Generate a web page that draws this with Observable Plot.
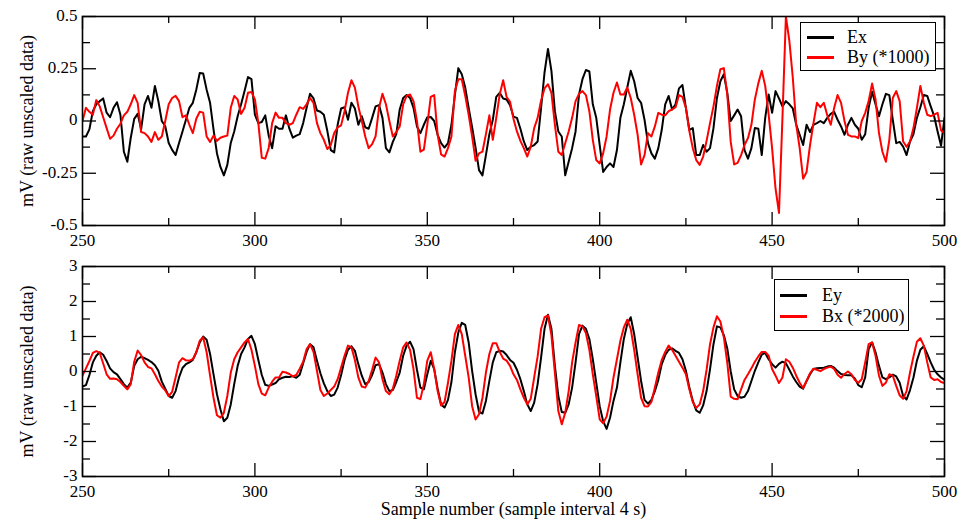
<!DOCTYPE html>
<html>
<head>
<meta charset="utf-8">
<script src="https://cdn.jsdelivr.net/npm/d3@7"></script>
<script src="https://cdn.jsdelivr.net/npm/@observablehq/plot@0.6"></script>
<style>
  body { margin: 0; background: #fff; }
  #wrap { position: relative; width: 963px; height: 528px; background: #fff;
          font-family: "Liberation Serif", "Times New Roman", serif; color: #000; }
  #wrap svg { position: absolute; left: 0; }
  .legend { position: absolute; border: 1px solid #000; background: #fff; box-sizing: border-box; }
  .legend .sw { position: absolute; height: 3px; width: 27px; }
  .legend .lb { position: absolute; font-size: 18px; line-height: 18px; white-space: nowrap; }
</style>
</head>
<body>
<div id="wrap"></div>
<script>
// ---------------- data ----------------
const sampleStart = 250;
const sampleEnd = 500;

// Top panel: Ex (mV) and By (*1000)
const ex = [-0.074,-0.074,-0.04,0.047,0.08,0.095,0.108,0.04,0.018,0.063,
0.09,0.03,-0.147,-0.195,-0.08,0.01,0.034,-0.04,0.08,0.12,
0.063,0.168,0.095,0,-0.025,-0.105,-0.138,-0.163,-0.105,-0.05,
0.006,0.063,0.087,0.15,0.23,0.227,0.15,0.087,-0.04,-0.155,
-0.22,-0.26,-0.21,-0.105,-0.05,0.023,0.08,0.143,0.21,0.2,
0.03,-0.01,-0.005,0.027,-0.07,-0.13,-0.025,-0.037,-0.037,0.027,
-0.037,-0.08,-0.07,-0.063,-0.01,0.063,0.13,0.108,0.05,0.044,
0.03,-0.047,-0.139,-0.15,-0.018,0.06,0.066,0.006,0.087,0.06,
-0.018,0.023,-0.03,-0.037,0.015,0.07,0.076,0.015,-0.13,-0.15,
-0.1,-0.063,0.055,0.11,0.124,0.11,0.063,-0.026,-0.058,-0.018,
0.018,0.019,0,-0.066,-0.106,-0.127,-0.106,-0.018,0.124,0.253,
0.224,0.16,0.063,-0.03,-0.127,-0.235,-0.26,-0.163,-0.063,0.006,
0.115,0.135,0.108,0.103,0.076,0.02,0.015,-0.037,-0.098,-0.139,
-0.123,-0.115,-0.098,0.063,0.232,0.345,0.24,0.047,-0.05,-0.074,
-0.26,-0.195,-0.13,-0.05,0.127,0.2,0.244,0.237,0.08,0.015,
-0.115,-0.244,-0.22,-0.203,-0.22,-0.139,0.015,0.08,0.16,0.24,
0.19,0.11,0.087,0.006,-0.106,-0.155,-0.18,-0.13,-0.042,0.08,
0.12,0.055,0.08,0.156,0.172,0.063,-0.042,-0.034,-0.163,-0.163,
-0.115,-0.147,-0.13,-0.034,0.11,0.19,0.224,0.135,0,0.027,
0.055,0.023,-0.139,-0.18,-0.13,-0.034,-0.037,-0.163,0.015,0.127,
0.039,0.143,0.108,0.07,0.095,0.08,0.06,-0.018,-0.066,-0.115,
-0.018,-0.053,-0.018,-0.01,0,-0.01,0.015,0.034,0.044,0.006,
-0.026,-0.066,-0.018,0.015,-0.018,-0.037,-0.09,-0.063,0.063,0.14,
0.08,0.023,0.08,0.13,0.124,0.006,-0.106,-0.1,-0.123,-0.163,
-0.098,-0.063,0.015,0.066,0.124,0.12,0.07,0.023,-0.05,-0.118,
0.015];

const by = [0,0.063,0.044,0.03,0.1,0.07,0.018,-0.034,-0.085,-0.07,
-0.037,-0.013,0.027,0.044,0.08,0.124,0.087,-0.053,-0.058,-0.074,
-0.1,-0.053,-0.09,-0.074,0,0.08,0.11,0.12,0.095,0.018,
0.027,-0.018,-0.058,0.011,0.044,0.04,-0.074,-0.1,-0.07,-0.095,
-0.08,-0.074,-0.07,0.063,0.12,0.103,0.034,0.063,0.135,0.139,
0.103,-0.01,-0.176,-0.18,-0.13,-0.01,0.04,0.015,0.015,-0.01,
-0.018,-0.01,0.03,0.066,0.058,0.08,0.11,0.087,-0.01,-0.058,
-0.09,-0.134,-0.115,-0.058,-0.03,-0.021,0.047,0.135,0.195,0.16,
0.07,0,-0.074,-0.13,-0.111,-0.074,0.063,0.13,0.08,0,
-0.074,-0.053,-0.026,0.08,0.12,0.127,0.095,0,-0.147,-0.137,
-0.018,0.115,0.124,-0.066,-0.16,-0.17,-0.13,-0.074,0.143,0.2,
0.2,0.12,0.03,-0.074,-0.19,-0.155,-0.147,-0.063,0.027,-0.09,
0.015,0.127,0.195,0.115,0.092,0.01,-0.05,-0.095,-0.13,-0.17,
-0.123,-0.034,0.015,0.098,0.156,0.176,0.135,-0.018,-0.147,-0.163,
-0.106,-0.05,0.015,0.095,0.13,0.143,0.124,0.047,-0.09,-0.187,
-0.203,-0.155,-0.074,0.055,0.135,0.184,0.127,0.127,0.16,0.11,
0.03,-0.066,-0.208,-0.163,-0.058,-0.074,-0.026,0.039,0.03,0.027,
0.047,0.055,0.066,0.124,0.115,0.063,-0.048,-0.13,-0.187,-0.21,
-0.17,-0.095,-0.01,0.07,0.168,0.248,0.253,0.127,-0.1,-0.208,
-0.2,-0.163,-0.115,-0.082,-0.018,0.103,0.18,0.24,0.168,0.03,
-0.13,-0.324,-0.44,0.015,0.5,0.385,0.208,-0.018,-0.13,-0.276,
-0.244,-0.115,-0.01,0.087,0.066,0.087,0.027,-0.018,0.063,0.124,
0.087,0,-0.066,-0.074,-0.074,-0.082,0,0.039,0.095,0.179,
0.103,-0.058,-0.147,-0.195,-0.09,0.11,0.143,0.095,-0.098,-0.123,
-0.098,-0.034,0.063,0.168,0.087,0.03,0.023,0.03,0.039,-0.045,
-0.058];

// Bottom panel: Ey (mV) and Bx (*2000)
const ey = [-0.43,-0.39,-0.1,0.26,0.45,0.55,0.48,0.3,0.09,-0.02,
-0.08,-0.22,-0.36,-0.46,-0.32,0.16,0.35,0.42,0.38,0.33,
0.27,0.18,0.02,-0.29,-0.49,-0.7,-0.75,-0.56,-0.17,0.1,
0.21,0.26,0.33,0.55,0.83,1.0,0.91,0.5,-0.08,-0.65,
-1.08,-1.42,-1.32,-0.94,-0.36,0.16,0.5,0.69,0.93,1.02,
0.78,0.33,-0.1,-0.38,-0.41,-0.37,-0.33,-0.22,-0.18,-0.15,
-0.16,-0.13,-0.18,-0.09,0.24,0.56,0.78,0.69,0.31,-0.05,
-0.34,-0.56,-0.7,-0.66,-0.46,-0.1,0.33,0.62,0.72,0.59,
0.21,-0.12,-0.36,-0.3,-0.1,0.18,0.21,-0.03,-0.36,-0.56,
-0.53,-0.3,-0.03,0.45,0.74,0.85,0.64,0.05,-0.46,-0.51,
-0.08,0.31,0.07,-0.49,-0.94,-1.03,-0.81,-0.3,0.55,1.12,
1.39,1.33,0.83,0.02,-0.65,-1.15,-1.2,-0.84,-0.27,0.26,
0.55,0.59,0.57,0.47,0.33,0.25,0.05,-0.22,-0.56,-0.94,
-1.13,-0.89,-0.36,0.4,1.22,1.62,1.22,0.16,-0.7,-1.16,
-1.18,-0.94,-0.46,0.26,1.07,1.31,1.22,0.93,0.35,-0.32,
-0.99,-1.42,-1.64,-1.32,-0.84,-0.46,0.26,0.93,1.36,1.55,
1.07,0.4,-0.27,-0.81,-0.92,-0.81,-0.56,-0.24,0.21,0.47,
0.62,0.66,0.59,0.53,0.35,0.02,-0.46,-0.84,-1.11,-1.18,
-0.97,-0.56,0.07,0.78,1.29,1.26,1.04,0.66,0,-0.51,
-0.7,-0.75,-0.72,-0.56,-0.27,0.02,0.26,0.48,0.53,0.35,
0.21,0.11,0.22,0.28,0.24,0.05,-0.14,-0.3,-0.43,-0.49,
-0.27,-0.08,0.07,0.09,0.1,0.11,0.14,0.16,0.11,0.01,
-0.07,-0.1,-0.11,-0.11,-0.2,-0.39,-0.45,-0.17,0.64,0.83,
0.55,0.16,-0.17,-0.22,-0.17,-0.09,-0.14,-0.32,-0.7,-0.8,
-0.53,-0.17,0.31,0.62,0.72,0.5,0.26,0.05,-0.08,-0.17,
-0.24];

const bx = [-0.12,0.09,0.3,0.53,0.58,0.53,0.23,-0.08,-0.21,-0.2,
-0.22,-0.3,-0.41,-0.51,-0.36,0.28,0.6,0.47,0.26,0.13,
0.09,-0.08,-0.27,-0.43,-0.54,-0.7,-0.58,-0.17,0.26,0.38,
0.32,0.31,0.35,0.55,0.88,0.98,0.55,-0.12,-0.75,-1.25,
-1.32,-1.18,-0.7,-0.03,0.35,0.55,0.69,0.83,0.93,0.62,
0.16,-0.36,-0.63,-0.68,-0.46,-0.29,-0.17,-0.17,-0.01,-0.03,
-0.07,-0.14,-0.1,0.08,0.28,0.64,0.78,0.56,0.02,-0.53,
-0.7,-0.63,-0.53,-0.43,-0.22,0.11,0.45,0.74,0.69,0.33,
-0.17,-0.43,-0.46,-0.27,0.05,0.4,0.26,-0.22,-0.56,-0.65,
-0.49,-0.12,0.31,0.69,0.83,0.62,0.07,-0.75,-0.79,-0.36,
0.31,0.55,0.07,-0.56,-0.97,-0.87,-0.32,0.31,1.07,1.33,
1.07,0.45,-0.17,-0.99,-1.37,-1.22,-0.75,-0.03,0.5,0.81,
0.81,0.56,0.37,0.31,0.16,-0.08,-0.24,-0.51,-0.75,-0.94,
-0.78,-0.17,0.43,1.22,1.55,1.6,1.04,-0.03,-1.13,-1.51,
-1.18,-0.56,0.26,0.83,1.33,1.29,1.1,0.62,-0.08,-0.7,
-1.37,-1.48,-1.29,-0.84,-0.17,0.35,0.88,1.26,1.48,1.22,
0.62,-0.08,-0.75,-0.99,-1.0,-0.87,-0.46,-0.03,0.33,0.56,
0.74,0.62,0.45,0.28,0.11,-0.08,-0.51,-0.87,-1.04,-0.94,
-0.56,0.05,0.78,1.26,1.58,1.43,0.98,0.25,-0.72,-0.78,
-0.79,-0.51,-0.24,-0.08,0.09,0.28,0.43,0.56,0.56,0.45,
0.07,-0.12,-0.33,-0.17,0.35,0.28,0.11,-0.12,-0.32,-0.47,
-0.27,-0.05,0.08,0.05,0.01,0.07,0.11,0.14,0.07,-0.09,
-0.18,-0.07,0,-0.08,-0.24,-0.32,-0.22,0.26,0.78,0.83,
0.45,-0.12,-0.41,-0.32,-0.08,-0.12,-0.41,-0.68,-0.78,-0.56,
-0.03,0.43,0.85,0.95,0.74,0.26,-0.17,-0.24,-0.22,-0.3,
-0.33];

// tick values
const xMajorTicks = [250, 300, 350, 400, 450, 500];
const xMinorTicks = [275, 325, 375, 425, 475];
const topYMajor = [-0.5, -0.25, 0, 0.25, 0.5];
const topYMinor = [-0.375, -0.125, 0.125, 0.375];
const botYMajor = [-3, -2, -1, 0, 1, 2, 3];
const botYMinor = [-2.5, -1.5, -0.5, 0.5, 1.5, 2.5];

const yTitle = "mV (raw unscaled data)";
const xTitle = "Sample number (sample interval 4 s)";
const topLegend = [{label: "Ex", color: "#000000"}, {label: "By (*1000)", color: "#ff0000"}];
const botLegend = [{label: "Ey", color: "#000000"}, {label: "Bx (*2000)", color: "#ff0000"}];

// ---------------- drawing ----------------
const W = 963, ML = 82, MR = 19, MT = 16;
const plotW = W - ML - MR;

function panel({top, height, marginBottom, yDomain, yMajor, yMinor, black, red, withXTitle}) {
  const ph = height - MT - marginBottom;
  const toRows = (vals) => vals.map((v, i) => ({s: sampleStart + i, v}));
  const marks = [
    Plot.line(toRows(black), {x: "s", y: "v", stroke: "#000", strokeWidth: 2, clip: true}),
    Plot.line(toRows(red), {x: "s", y: "v", stroke: "#ff0000", strokeWidth: 2, clip: true}),
    // inward ticks: bottom and top edges
    Plot.tickX(xMajorTicks, {x: d => d, insetTop: ph - 13, stroke: "#000", strokeWidth: 1.3}),
    Plot.tickX(xMajorTicks, {x: d => d, insetBottom: ph - 13, stroke: "#000", strokeWidth: 1.3}),
    Plot.tickX(xMinorTicks, {x: d => d, insetTop: ph - 7, stroke: "#000", strokeWidth: 1.3}),
    Plot.tickX(xMinorTicks, {x: d => d, insetBottom: ph - 7, stroke: "#000", strokeWidth: 1.3}),
    // inward ticks: left and right edges
    Plot.tickY(yMajor, {y: d => d, insetRight: plotW - 14, stroke: "#000", strokeWidth: 1.3}),
    Plot.tickY(yMajor, {y: d => d, insetLeft: plotW - 14, stroke: "#000", strokeWidth: 1.3}),
    Plot.tickY(yMinor, {y: d => d, insetRight: plotW - 8, stroke: "#000", strokeWidth: 1.3}),
    Plot.tickY(yMinor, {y: d => d, insetLeft: plotW - 8, stroke: "#000", strokeWidth: 1.3}),
    Plot.frame({stroke: "#000", strokeWidth: 1.6}),
    Plot.axisX(xMajorTicks, {tickSize: 0, tickPadding: 8, tickFormat: d => String(d), fontSize: 17, label: null}),
    Plot.axisY(yMajor, {tickSize: 0, tickPadding: 5, dy: -1, tickFormat: d => String(d), fontSize: 17, label: null}),
    Plot.text([yTitle], {text: d => d, frameAnchor: "left", dx: -55, rotate: -90,
      textAnchor: "middle", lineAnchor: "middle", fontSize: 18})
  ];
  if (withXTitle) {
    marks.push(Plot.text([xTitle], {text: d => d, frameAnchor: "bottom", dy: 33,
      textAnchor: "middle", lineAnchor: "middle", fontSize: 18}));
  }
  const svg = Plot.plot({
    width: W, height,
    marginLeft: ML, marginRight: MR, marginTop: MT, marginBottom,
    x: {domain: [sampleStart, sampleEnd], label: null},
    y: {domain: yDomain, label: null},
    style: {fontFamily: "'Liberation Serif', 'Times New Roman', serif", fontSize: "17px",
            color: "#000", background: "transparent", overflow: "visible"},
    marks
  });
  svg.style.top = top + "px";
  return svg;
}

function legend(items, box) {
  const div = document.createElement("div");
  div.className = "legend";
  Object.assign(div.style, {left: box.left + "px", top: box.top + "px",
    width: box.width + "px", height: box.height + "px"});
  items.forEach((it, k) => {
    const cy = box.rows[k];
    const sw = document.createElement("div");
    sw.className = "sw";
    Object.assign(sw.style, {left: box.swX + "px", top: (cy - 1.5) + "px", background: it.color});
    const lb = document.createElement("div");
    lb.className = "lb";
    lb.textContent = it.label;
    Object.assign(lb.style, {left: box.textX + "px", top: (cy - 9) + "px"});
    div.appendChild(sw);
    div.appendChild(lb);
  });
  return div;
}

const wrap = document.getElementById("wrap");
wrap.appendChild(panel({top: 0, height: 250, marginBottom: 25, yDomain: [-0.5, 0.5],
  yMajor: topYMajor, yMinor: topYMinor, black: ex, red: by, withXTitle: false}));
wrap.appendChild(panel({top: 250, height: 278, marginBottom: 52, yDomain: [-3, 3],
  yMajor: botYMajor, yMinor: botYMinor, black: ey, red: bx, withXTitle: true}));
wrap.appendChild(legend(topLegend, {left: 800, top: 22, width: 136, height: 49, swX: 6, textX: 46, rows: [14, 34]}));
wrap.appendChild(legend(botLegend, {left: 774, top: 279, width: 135, height: 52, swX: 5, textX: 47, rows: [15, 36]}));
</script>
</body>
</html>
